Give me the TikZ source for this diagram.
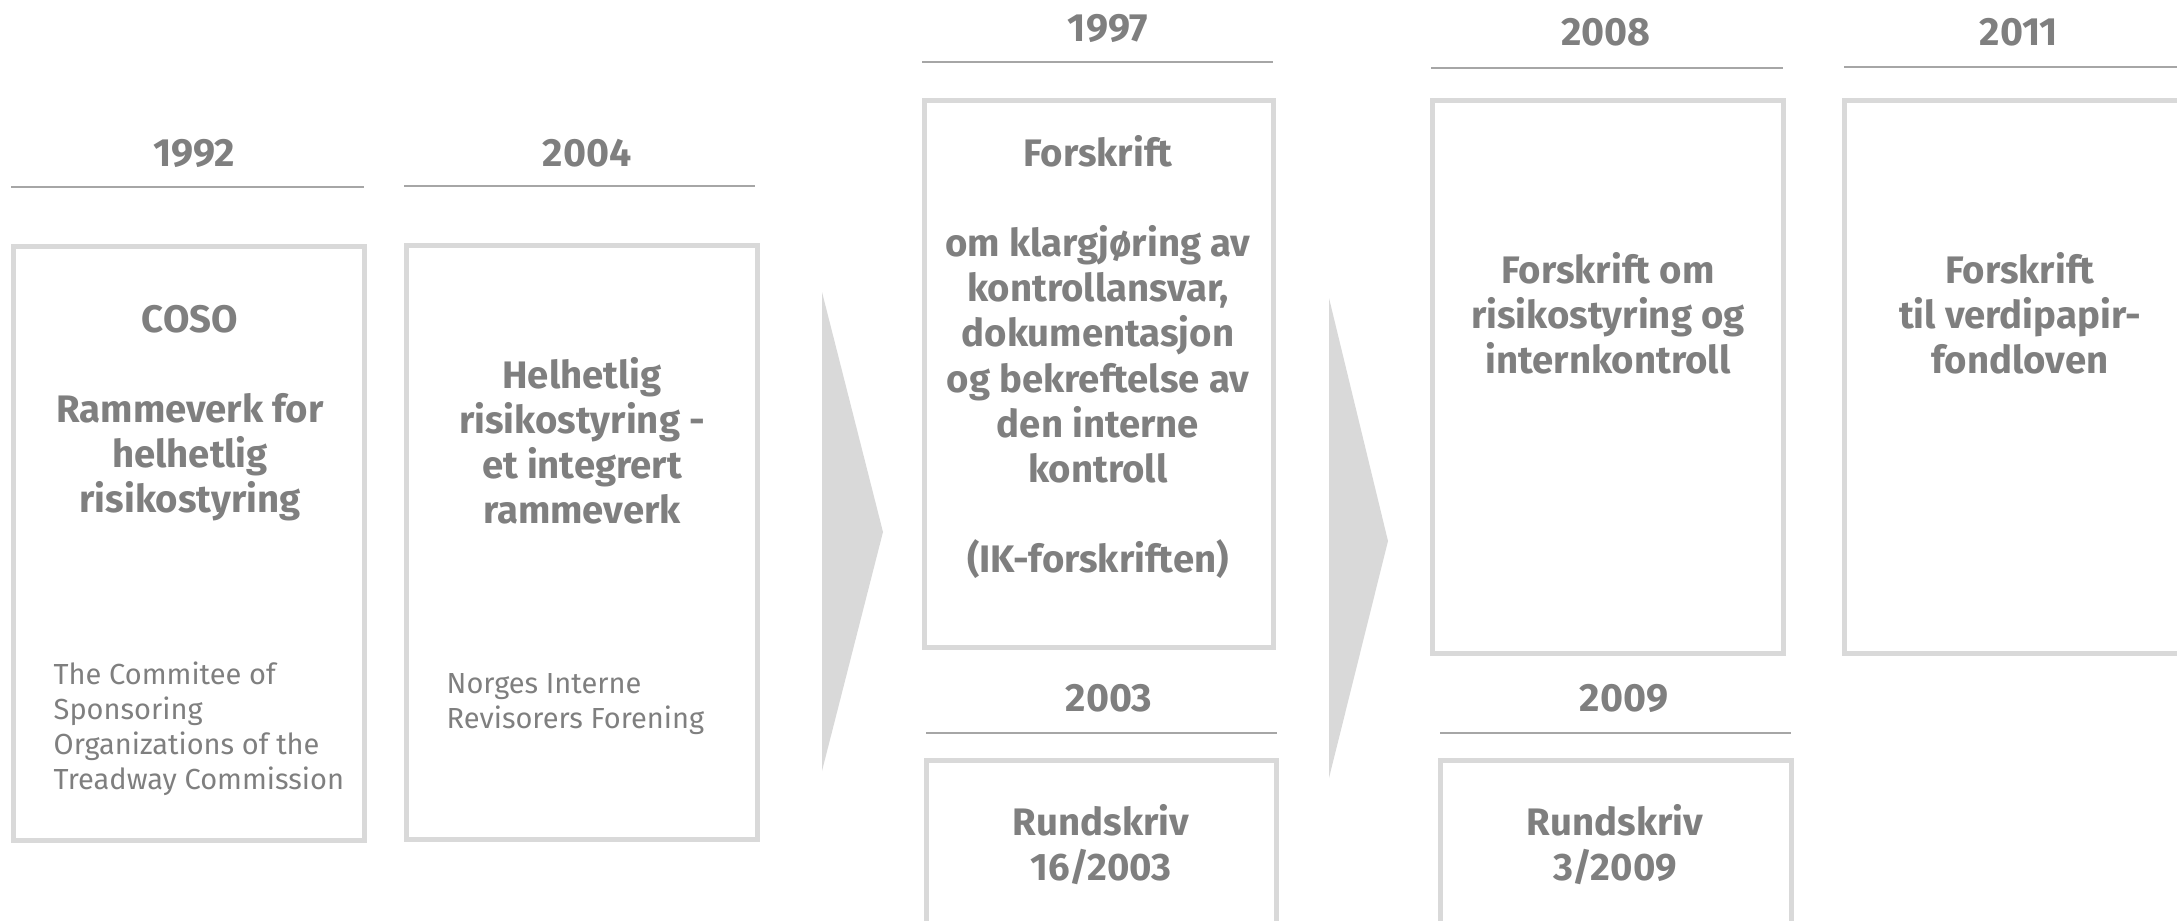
\documentclass[tikz,border=0pt]{standalone}
\usepackage{fontspec}
\setmainfont{Fira Sans}
\definecolor{boxgray}{HTML}{D9D9D9}
\definecolor{linegray}{HTML}{A6A6A6}
\definecolor{txtgray}{HTML}{7F7F7F}
\begin{document}
\begin{tikzpicture}[x=0.01cm,y=-0.01cm,
  box/.style={draw=boxgray,line width=1.4pt,inner sep=0pt},
  yr/.style={font=\bfseries\fontsize{11.2}{12.8}\selectfont,text=txtgray,inner sep=0pt},
  main/.style={font=\bfseries\fontsize{10.9}{12.8}\selectfont,text=txtgray,align=center,inner sep=0pt},
  small/.style={font=\fontsize{8.25}{9.96}\selectfont,text=txtgray,align=left,inner sep=0pt},
  rule/.style={draw=linegray,line width=0.7pt},
  chev/.style={fill=boxgray,draw=none}]
\useasboundingbox (0,0) rectangle (2177,921);
\clip (0,0) rectangle (2177,921);
% chevrons
\fill[chev] (822,292) -- (883,532) -- (822,771) -- cycle;
\fill[chev] (1329,298) -- (1388,541) -- (1329,778) -- cycle;
% boxes
\node[box,minimum width=3.5cm,minimum height=5.93cm] (b1992) at (189,543.5) {};
\node[box,minimum width=3.5cm,minimum height=5.93cm] (b2004) at (582,542.5) {};
\node[box,minimum width=3.48cm,minimum height=5.46cm] (b1997) at (1099,374) {};
\node[box,minimum width=3.49cm,minimum height=2.6cm] (b2003) at (1101.5,891) {};
\node[box,minimum width=3.5cm,minimum height=5.52cm] (b2008) at (1608,377) {};
\node[box,minimum width=3.5cm,minimum height=2.6cm] (b2009) at (1616,891) {};
\node[box,minimum width=4.2cm,minimum height=5.52cm] (b2011) at (2055,377) {};
% year labels and rules
\node[yr] (y1992) at (194,153) {1992};
\draw[rule] (11,187) -- (364,187);
\node[yr] (y2004) at (587,153) {2004};
\draw[rule] (404,186) -- (755,186);
\node[yr] (y1997) at (1108,28) {1997};
\draw[rule] (922,62) -- (1273,62);
\node[yr] (y2003) at (1109,698) {2003};
\draw[rule] (926,733) -- (1277,733);
\node[yr] (y2008) at (1606,32) {2008};
\draw[rule] (1431,68) -- (1783,68);
\node[yr] (y2009) at (1624,698) {2009};
\draw[rule] (1440,733) -- (1791,733);
\node[yr] (y2011) at (2019,32) {2011};
\draw[rule] (1844,67) -- (2200,67);
% texts
\node[main] (t1992) at (190,413) {COSO\\[12.8pt]Rammeverk for\\helhetlig\\risikostyring};
\node[small,anchor=north west] (s1992) at (53,661) {The Commitee of\\Sponsoring\\Organizations of the\\Treadway Commission};
\node[main] (t2004) at (582,441) {Helhetlig\\risikostyring -\\et integrert\\rammeverk};
\node[small,anchor=north west] (s2004) at (446,673) {Norges Interne\\Revisorers Forening};
\node[main] (t1997) at (1098,357) {Forskrift\\[12.8pt]om klargjøring av\\kontrollansvar,\\dokumentasjon\\og bekreftelse av\\den interne\\kontroll\\[12.8pt](IK-forskriften)};
\node[main] (t2003) at (1101,845) {Rundskriv\\16/2003};
\node[main] (t2008) at (1608,313) {Forskrift om\\risikostyring og\\internkontroll};
\node[main] (t2009) at (1615,845) {Rundskriv\\3/2009};
\node[main] (t2011) at (2020,313) {Forskrift\\til verdipapir-\\fondloven};
\end{tikzpicture}
\end{document}
